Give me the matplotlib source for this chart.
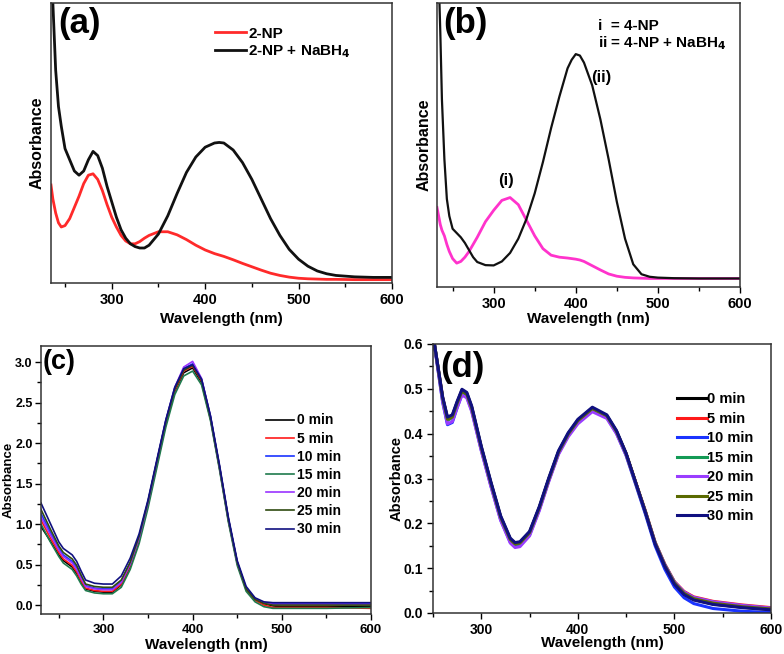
import numpy as np
import matplotlib
matplotlib.use("Agg")
import matplotlib.pyplot as plt
from matplotlib.ticker import MultipleLocator, FormatStrFormatter

plt.rcParams['font.family'] = ['Liberation Sans', 'DejaVu Sans']
plt.rcParams['font.weight'] = 'bold'
plt.rcParams['axes.labelweight'] = 'bold'

# ---------------- (a) 2-NP ----------------
wl_a = [235, 237, 240, 243, 246, 250, 255, 260, 265, 270, 275, 280, 285, 290, 295, 300,
        305, 310, 315, 320, 325, 330, 335, 340, 350, 360, 370, 380, 390, 400, 410, 415,
        420, 430, 440, 450, 460, 470, 480, 490, 500, 510, 520, 530, 540, 560, 580, 600]
np2 = [0.35, 0.30, 0.25, 0.215, 0.20, 0.205, 0.23, 0.27, 0.31, 0.355, 0.385, 0.39, 0.37,
       0.33, 0.28, 0.235, 0.20, 0.17, 0.15, 0.14, 0.14, 0.148, 0.16, 0.17, 0.183, 0.183,
       0.172, 0.155, 0.135, 0.118, 0.105, 0.10, 0.095, 0.083, 0.07, 0.058, 0.046, 0.035,
       0.027, 0.021, 0.017, 0.015, 0.014, 0.013, 0.013, 0.012, 0.012, 0.012]
np2_nabh4 = [1.30, 1.00, 0.76, 0.63, 0.56, 0.48, 0.44, 0.40, 0.385, 0.40, 0.44, 0.47, 0.455,
             0.41, 0.345, 0.29, 0.235, 0.19, 0.16, 0.14, 0.13, 0.125, 0.125, 0.135, 0.175,
             0.24, 0.32, 0.395, 0.45, 0.485, 0.50, 0.502, 0.50, 0.475, 0.43, 0.37, 0.30, 0.23,
             0.17, 0.12, 0.085, 0.06, 0.043, 0.033, 0.027, 0.022, 0.02, 0.02]

# ---------------- (b) 4-NP ----------------
wl_b = [231, 233, 235, 237, 240, 243, 246, 250, 255, 260, 265, 270, 275, 280, 290, 300, 310,
        320, 330, 340, 350, 360, 370, 380, 390, 395, 400, 405, 410, 420, 430, 440, 450, 460,
        470, 480, 490, 500, 520, 550, 600]
np4 = [0.28, 0.25, 0.22, 0.20, 0.18, 0.15, 0.125, 0.10, 0.084, 0.09, 0.105, 0.125, 0.15, 0.175,
       0.23, 0.27, 0.305, 0.315, 0.29, 0.235, 0.18, 0.135, 0.112, 0.105, 0.102, 0.10, 0.098,
       0.095, 0.09, 0.075, 0.06, 0.046, 0.038, 0.034, 0.032, 0.031, 0.03, 0.03, 0.03, 0.03, 0.03]
np4_nabh4 = [1.5, 1.1, 0.90, 0.66, 0.45, 0.31, 0.25, 0.205, 0.19, 0.175, 0.155, 0.13, 0.105,
             0.088, 0.077, 0.076, 0.09, 0.12, 0.17, 0.24, 0.33, 0.44, 0.56, 0.67, 0.77, 0.80,
             0.82, 0.815, 0.79, 0.71, 0.59, 0.45, 0.30, 0.17, 0.08, 0.045, 0.036, 0.033, 0.031,
             0.03, 0.03]

# ---------------- (c) time series ----------------
wl_c = [230, 240, 250, 255, 260, 265, 270, 275, 280, 290, 300, 310, 320, 330, 340, 350, 360,
        370, 380, 390, 400, 410, 420, 430, 440, 450, 460, 470, 480, 490, 500, 550, 600]
c_0 = [0.97, 0.80, 0.62, 0.55, 0.51, 0.47, 0.39, 0.28, 0.20, 0.17, 0.16, 0.16, 0.25, 0.48, 0.80,
       1.24, 1.74, 2.24, 2.64, 2.87, 2.93, 2.75, 2.30, 1.70, 1.05, 0.52, 0.20, 0.07, 0.02,
       -0.01, -0.02, -0.02, -0.02]
c_5 = [1.05, 0.84, 0.65, 0.57, 0.53, 0.49, 0.41, 0.30, 0.21, 0.18, 0.17, 0.17, 0.26, 0.49, 0.81,
       1.25, 1.75, 2.25, 2.65, 2.89, 2.95, 2.77, 2.31, 1.71, 1.06, 0.52, 0.19, 0.06, 0.0,
       -0.03, -0.03, -0.03, -0.04]
c_10 = [1.13, 0.91, 0.70, 0.62, 0.58, 0.54, 0.46, 0.35, 0.24, 0.21, 0.20, 0.20, 0.29, 0.52, 0.84,
        1.28, 1.78, 2.28, 2.68, 2.92, 2.98, 2.79, 2.33, 1.72, 1.07, 0.53, 0.21, 0.08, 0.03,
        0.02, 0.02, 0.02, 0.02]
c_15 = [1.00, 0.79, 0.60, 0.52, 0.48, 0.44, 0.36, 0.26, 0.18, 0.15, 0.14, 0.14, 0.22, 0.44, 0.76,
        1.20, 1.70, 2.20, 2.60, 2.83, 2.89, 2.72, 2.28, 1.68, 1.03, 0.49, 0.17, 0.04, -0.02,
        -0.04, -0.04, -0.04, -0.03]
c_20 = [1.09, 0.88, 0.68, 0.60, 0.56, 0.52, 0.44, 0.33, 0.23, 0.20, 0.19, 0.19, 0.28, 0.51, 0.83,
        1.27, 1.78, 2.28, 2.69, 2.94, 3.01, 2.80, 2.33, 1.72, 1.07, 0.53, 0.21, 0.08, 0.03,
        0.01, 0.01, 0.01, 0.01]
c_25 = [1.18, 0.95, 0.73, 0.65, 0.61, 0.57, 0.49, 0.37, 0.26, 0.23, 0.22, 0.22, 0.31, 0.53, 0.85,
        1.28, 1.78, 2.27, 2.67, 2.90, 2.96, 2.78, 2.32, 1.72, 1.07, 0.53, 0.20, 0.07, 0.02,
        0.0, 0.0, 0.0, 0.0]
c_30 = [1.26, 1.02, 0.78, 0.70, 0.66, 0.62, 0.54, 0.42, 0.31, 0.27, 0.26, 0.26, 0.36, 0.58, 0.88,
        1.30, 1.80, 2.29, 2.69, 2.92, 2.97, 2.79, 2.34, 1.74, 1.09, 0.55, 0.23, 0.09, 0.04,
        0.03, 0.03, 0.03, 0.03]

# ---------------- (d) time series ----------------
wl_d = [250, 255, 260, 265, 270, 275, 280, 285, 290, 300, 310, 320, 330, 335, 340, 350, 360,
        370, 380, 390, 400, 415, 430, 440, 450, 460, 470, 480, 490, 500, 510, 520, 540, 570, 600]
d_0 = [0.62, 0.55, 0.48, 0.435, 0.44, 0.47, 0.497, 0.49, 0.46, 0.37, 0.29, 0.215, 0.165, 0.155,
       0.157, 0.18, 0.235, 0.30, 0.36, 0.40, 0.43, 0.457, 0.44, 0.405, 0.355, 0.29, 0.225,
       0.155, 0.105, 0.065, 0.042, 0.030, 0.020, 0.013, 0.008]
d_5 = [0.62, 0.55, 0.48, 0.432, 0.437, 0.467, 0.494, 0.487, 0.457, 0.367, 0.287, 0.212, 0.162,
       0.152, 0.154, 0.177, 0.232, 0.297, 0.357, 0.397, 0.427, 0.454, 0.438, 0.404, 0.355,
       0.291, 0.227, 0.158, 0.109, 0.07, 0.048, 0.036, 0.026, 0.018, 0.012]
d_10 = [0.62, 0.545, 0.47, 0.42, 0.425, 0.458, 0.488, 0.482, 0.452, 0.363, 0.283, 0.208, 0.158,
        0.148, 0.15, 0.174, 0.23, 0.296, 0.356, 0.396, 0.426, 0.453, 0.436, 0.401, 0.351,
        0.286, 0.22, 0.15, 0.098, 0.058, 0.034, 0.021, 0.01, 0.004, 0.001]
d_15 = [0.62, 0.55, 0.478, 0.43, 0.435, 0.466, 0.493, 0.486, 0.456, 0.367, 0.287, 0.213, 0.163,
        0.153, 0.155, 0.178, 0.233, 0.298, 0.358, 0.398, 0.428, 0.455, 0.439, 0.404, 0.354,
        0.29, 0.226, 0.157, 0.108, 0.069, 0.046, 0.034, 0.024, 0.016, 0.01]
d_20 = [0.62, 0.545, 0.472, 0.422, 0.427, 0.458, 0.486, 0.48, 0.45, 0.362, 0.282, 0.207, 0.156,
        0.146, 0.148, 0.172, 0.228, 0.294, 0.354, 0.393, 0.422, 0.449, 0.434, 0.40, 0.352,
        0.289, 0.225, 0.157, 0.108, 0.069, 0.047, 0.035, 0.025, 0.017, 0.011]
d_25 = [0.62, 0.55, 0.479, 0.432, 0.437, 0.468, 0.495, 0.488, 0.458, 0.369, 0.289, 0.214, 0.164,
        0.154, 0.156, 0.179, 0.234, 0.299, 0.359, 0.399, 0.429, 0.456, 0.44, 0.405, 0.355,
        0.29, 0.225, 0.156, 0.106, 0.067, 0.044, 0.032, 0.022, 0.014, 0.009]
d_30 = [0.62, 0.552, 0.482, 0.437, 0.442, 0.472, 0.499, 0.492, 0.462, 0.372, 0.292, 0.217, 0.167,
        0.157, 0.159, 0.182, 0.237, 0.302, 0.362, 0.402, 0.432, 0.459, 0.442, 0.407, 0.356,
        0.29, 0.224, 0.154, 0.104, 0.064, 0.041, 0.029, 0.019, 0.012, 0.007]

time_labels = ['0 min', '5 min', '10 min', '15 min', '20 min', '25 min', '30 min']
colors_c = ['#000000', '#ff1a1a', '#1a33ff', '#1f7a4d', '#9933ff', '#2f4a10', '#101080']
colors_d = ['#000000', '#ff1a1a', '#1a33ff', '#139a55', '#9a3dff', '#5a6a00', '#101080']

W, H = 784, 654
fig = plt.figure(figsize=(W / 100, H / 100), dpi=100)


def add_axes_px(left, top, right, bottom):
    return fig.add_axes([left / W, 1 - bottom / H, (right - left) / W, (bottom - top) / H])


def style_axes(ax, show_y, size):
    for s in ax.spines.values():
        s.set_linewidth(1.1)
        s.set_color('#333333')
    ax.xaxis.set_major_locator(MultipleLocator(100))
    ax.xaxis.set_minor_locator(MultipleLocator(50))
    ax.tick_params(axis='both', which='both', direction='out', top=False, right=False,
                   labelsize=size, width=1.0)
    ax.tick_params(which='major', length=4)
    ax.tick_params(which='minor', length=3)
    if not show_y:
        ax.set_yticks([])


ax_a = add_axes_px(51, 3, 392, 283)
ax_b = add_axes_px(437, 3, 740, 287)
ax_c = add_axes_px(41, 346, 371, 614)
ax_d = add_axes_px(433, 344, 771, 613)

# (a)
ax_a.plot(wl_a, np2, color='#ff2a2a', lw=2.0, label='2-NP')
ax_a.plot(wl_a, np2_nabh4, color='#111111', lw=2.0, label='2-NP + NaBH$_4$')
ax_a.set_xlim(235, 600)
ax_a.set_ylim(0, 1.0)
style_axes(ax_a, False, 10.5)
ax_a.legend(loc='upper left', bbox_to_anchor=(0.442, 0.965), frameon=False, fontsize=11,
            handlelength=2.0, handletextpad=0.15, labelspacing=0.2)
ax_a.text(0.02, 0.985, '(a)', transform=ax_a.transAxes, fontsize=25, fontweight='bold',
          va='top', ha='left')

# (b)
ax_b.plot(wl_b, np4, color='#ff33cc', lw=2.0)
ax_b.plot(wl_b, np4_nabh4, color='#111111', lw=1.6)
ax_b.set_xlim(231, 600)
ax_b.set_ylim(0, 1.0)
style_axes(ax_b, False, 10.5)
ax_b.text(0.02, 0.985, '(b)', transform=ax_b.transAxes, fontsize=25, fontweight='bold',
          va='top', ha='left')
ax_b.text(0.53, 0.92, 'i  = 4-NP', transform=ax_b.transAxes, fontsize=11,
          fontweight='bold', va='center')
ax_b.text(0.53, 0.86, 'ii = 4-NP + NaBH$_4$', transform=ax_b.transAxes, fontsize=11,
          fontweight='bold', va='center')
ax_b.text(419, 0.738, '(ii)', fontsize=12, fontweight='bold', ha='left', va='center')
ax_b.text(305, 0.375, '(i)', fontsize=12, fontweight='bold', ha='left', va='center')

# (c)
c_series = [c_0, c_5, c_10, c_15, c_20, c_25, c_30]
for vals, col, lab in zip(c_series, colors_c, time_labels):
    ax_c.plot(wl_c, vals, color=col, lw=1.2, label=lab)
ax_c.set_xlim(230, 600)
ax_c.set_ylim(-0.11, 3.2)
style_axes(ax_c, True, 9.5)
ax_c.tick_params(axis='y', labelsize=9, pad=2)
ax_c.yaxis.set_major_locator(MultipleLocator(0.5))
ax_c.yaxis.set_minor_locator(MultipleLocator(0.25))
ax_c.yaxis.set_major_formatter(FormatStrFormatter('%.1f'))
ax_c.legend(loc='upper left', bbox_to_anchor=(0.645, 0.795), frameon=False, fontsize=10,
            handlelength=2.0, handletextpad=0.2, labelspacing=0.3)
ax_c.text(0.006, 0.99, '(c)', transform=ax_c.transAxes, fontsize=19.5, fontweight='bold',
          va='top', ha='left')

# (d)
d_series = [d_0, d_5, d_10, d_15, d_20, d_25, d_30]
for vals, col, lab in zip(d_series, colors_d, time_labels):
    ax_d.plot(wl_d, vals, color=col, lw=2.2, label=lab)
ax_d.set_xlim(250, 600)
ax_d.set_ylim(0, 0.6)
style_axes(ax_d, True, 10)
ax_d.yaxis.set_major_locator(MultipleLocator(0.1))
ax_d.yaxis.set_minor_locator(MultipleLocator(0.05))
ax_d.yaxis.set_major_formatter(FormatStrFormatter('%.1f'))
ax_d.legend(loc='upper left', bbox_to_anchor=(0.683, 0.87), frameon=False, fontsize=10.5,
            handlelength=2.05, handletextpad=0.0, labelspacing=0.38)
ax_d.text(0.02, 0.975, '(d)', transform=ax_d.transAxes, fontsize=25, fontweight='bold',
          va='top', ha='left')

# axis labels
for ax, xl_y, yl_x, fs in [(ax_a, -0.104, -0.018, 11.5), (ax_b, -0.088, -0.017, 11.5),
                           (ax_c, -0.088, -0.080, 9.5), (ax_d, -0.085, -0.086, 10.5)]:
    ax.set_xlabel('Wavelength (nm)', fontsize=11, fontweight='bold')
    ax.set_ylabel('Absorbance', fontsize=fs, fontweight='bold')
    ax.xaxis.set_label_coords(0.5, xl_y)
    ax.yaxis.set_label_coords(yl_x, 0.5)

fig.savefig('out.png', dpi=100)
